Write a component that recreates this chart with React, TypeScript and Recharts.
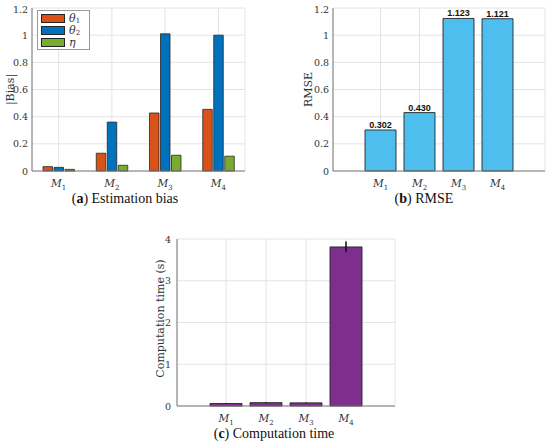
import React from 'react';
import {
  BarChart,
  Bar,
  XAxis,
  YAxis,
  CartesianGrid,
  Legend,
  LabelList,
  ErrorBar,
  Label,
} from 'recharts';

const methods = ['1', '2', '3', '4'];

// (a) estimation bias
const biasTheta1 = [0.032, 0.131, 0.427, 0.454];
const biasTheta2 = [0.027, 0.36, 1.01, 1.0];
const biasEta = [0.012, 0.042, 0.116, 0.109];

// (b) RMSE
const rmse = [0.302, 0.43, 1.123, 1.121];

// (c) computation time (s)
const compTime = [0.06, 0.08, 0.075, 3.81];
const compErr = [0.01, 0.01, 0.01, 0.13];

const ticks12 = [0, 0.2, 0.4, 0.6, 0.8, 1, 1.2];
const ticks4 = [0, 1, 2, 3, 4];

const biasData = methods.map((m, i) => ({
  name: m,
  theta1: biasTheta1[i],
  theta2: biasTheta2[i],
  eta: biasEta[i],
}));
const rmseData = methods.map((m, i) => ({ name: m, rmse: rmse[i] }));
const timeData = methods.map((m, i) => ({ name: m, time: compTime[i], err: compErr[i] }));

const SERIF = '"DejaVu Serif", "Liberation Serif", serif';
const SANS = '"Liberation Sans", Arial, sans-serif';
const TXT = '#333';
const AXIS = '#7a7a7a';
const GRID = '#e4e4e4';
const EDGE = '#262626';

function MTick(props: any) {
  const { x, y, payload } = props;
  return (
    <text x={x} y={y + 14} textAnchor="middle" fill={TXT} style={{ fontFamily: SERIF, fontSize: 10.5 }}>
      <tspan fontStyle="italic">M</tspan>
      <tspan dy={2.5} style={{ fontSize: 7 }}>
        {payload.value}
      </tspan>
    </text>
  );
}

function NumTick(props: any) {
  const { x, y, payload } = props;
  return (
    <text
      x={x}
      y={y}
      dy={3.5}
      textAnchor="end"
      fill={TXT}
      style={{ fontFamily: SERIF, fontSize: 9.5 }}
    >
      {String(payload.value)}
    </text>
  );
}

function yLabel(text: string, x: number, dy = 0) {
  return (props: any) => {
    const vb = props.viewBox || {};
    const cy = vb.y + vb.height / 2 + dy;
    return (
      <text
        x={x}
        y={cy}
        transform={`rotate(-90, ${x}, ${cy})`}
        textAnchor="middle"
        dominantBaseline="central"
        fill={TXT}
        style={{ fontFamily: SERIF, fontSize: 11 }}
      >
        {text}
      </text>
    );
  };
}

const legendItems = [
  { color: '#D95319', sym: 'θ', sub: '1' },
  { color: '#0072BD', sym: 'θ', sub: '2' },
  { color: '#77AC30', sym: 'η', sub: '' },
];

function BiasLegend() {
  return (
    <div
      style={{
        border: '1px solid #9a9a9a',
        background: '#fff',
        padding: '1px 9px 1px 3px',
        fontFamily: SERIF,
        fontSize: 11,
        color: TXT,
      }}
    >
      {legendItems.map((it) => (
        <div key={it.color + it.sub} style={{ display: 'flex', alignItems: 'center', height: 12 }}>
          <span
            style={{
              display: 'inline-block',
              width: 22,
              height: 7,
              background: it.color,
              border: `1px solid ${EDGE}`,
              marginRight: 4,
            }}
          />
          <span style={{ fontStyle: 'italic' }}>{it.sym}</span>
          <span style={{ fontSize: 7, position: 'relative', top: 3 }}>{it.sub}</span>
        </div>
      ))}
    </div>
  );
}

const caption = (x: number, y: number, letter: string, text: string) => (
  <div
    style={{
      position: 'absolute',
      left: x - 100,
      width: 200,
      top: y - 9,
      textAlign: 'center',
      fontFamily: '"Liberation Serif", serif',
      fontSize: 14,
      color: '#111',
      whiteSpace: 'nowrap',
    }}
  >
    (<b>{letter}</b>) {text}
  </div>
);

export default function App() {
  return (
    <div style={{ position: 'absolute', left: 0, top: 0, width: 550, height: 446, background: '#fff' }}>
      {/* (a) */}
      <div style={{ position: 'absolute', left: 0, top: 0 }}>
        <BarChart
          width={260}
          height={195}
          data={biasData}
          margin={{ top: 8, right: 15, bottom: 4, left: 0 }}
          barSize={9.5}
          barGap={1.5}
        >
          <CartesianGrid stroke={GRID} />
          <XAxis dataKey="name" height={20} tickLine={false} tickSize={0} tick={<MTick />} stroke={AXIS} interval={0} />
          <XAxis xAxisId="t" dataKey="name" orientation="top" height={0} tick={false} tickLine={false} stroke={AXIS} />
          <YAxis
            width={32}
            domain={[0, 1.2]}
            ticks={ticks12}
            tickLine={false}
            tickSize={0}
            tickMargin={4}
            tick={<NumTick />}
            stroke={AXIS}
          >
            <Label content={yLabel('|Bias|', 10)} />
          </YAxis>
          <YAxis yAxisId="r" orientation="right" width={0} tick={false} tickLine={false} stroke={AXIS} />
          <Legend
            layout="vertical"
            align="center"
            verticalAlign="middle"
            content={<BiasLegend />}
            wrapperStyle={{ left: 37, top: 10, width: 'auto' }}
          />
          <Bar dataKey="theta1" fill="#D95319" stroke={EDGE} strokeWidth={0.8} isAnimationActive={false} />
          <Bar dataKey="theta2" fill="#0072BD" stroke={EDGE} strokeWidth={0.8} isAnimationActive={false} />
          <Bar dataKey="eta" fill="#77AC30" stroke={EDGE} strokeWidth={0.8} isAnimationActive={false} />
        </BarChart>
      </div>
      {caption(125, 200, 'a', 'Estimation bias')}

      {/* (b) */}
      <div style={{ position: 'absolute', left: 290, top: 0 }}>
        <BarChart
          width={260}
          height={195}
          data={rmseData}
          margin={{ top: 8, right: 5, bottom: 4, left: 0 }}
          barSize={31}
        >
          <CartesianGrid stroke={GRID} />
          <XAxis
            dataKey="name"
            height={20}
            tickLine={false}
            tickSize={0}
            tick={<MTick />}
            stroke={AXIS}
            interval={0}
            padding={{ left: 28, right: 28 }}
          />
          <XAxis
            xAxisId="t"
            dataKey="name"
            orientation="top"
            height={0}
            tick={false}
            tickLine={false}
            stroke={AXIS}
            padding={{ left: 28, right: 28 }}
          />
          <YAxis
            width={43}
            domain={[0, 1.2]}
            ticks={ticks12}
            tickLine={false}
            tickSize={0}
            tickMargin={4}
            tick={<NumTick />}
            stroke={AXIS}
          >
            <Label content={yLabel('RMSE', 18)} />
          </YAxis>
          <YAxis yAxisId="r" orientation="right" width={0} tick={false} tickLine={false} stroke={AXIS} />
          <Bar dataKey="rmse" fill="#4DBEEE" stroke={EDGE} strokeWidth={0.9} isAnimationActive={false}>
            <LabelList
              dataKey="rmse"
              position="top"
              offset={2}
              formatter={(v: any) => Number(v).toFixed(3)}
              style={{ fontSize: 9, fontWeight: 'bold', fontFamily: SANS, fill: '#111' }}
            />
          </Bar>
        </BarChart>
      </div>
      {caption(424, 200, 'b', 'RMSE')}

      {/* (c) */}
      <div style={{ position: 'absolute', left: 120, top: 225 }}>
        <BarChart
          width={290}
          height={200}
          data={timeData}
          margin={{ top: 14, right: 15, bottom: 1, left: 0 }}
          barSize={32}
        >
          <CartesianGrid stroke={GRID} />
          <XAxis
            dataKey="name"
            height={18}
            tickLine={false}
            tickSize={0}
            tick={<MTick />}
            stroke={AXIS}
            interval={0}
            padding={{ left: 29, right: 29 }}
          />
          <XAxis
            xAxisId="t"
            dataKey="name"
            orientation="top"
            height={0}
            tick={false}
            tickLine={false}
            stroke={AXIS}
            padding={{ left: 29, right: 29 }}
          />
          <YAxis
            width={57}
            domain={[0, 4]}
            ticks={ticks4}
            tickLine={false}
            tickSize={0}
            tickMargin={6}
            tick={<NumTick />}
            stroke={AXIS}
          >
            <Label content={yLabel('Computation time (s)', 40, -4)} />
          </YAxis>
          <YAxis yAxisId="r" orientation="right" width={0} tick={false} tickLine={false} stroke={AXIS} />
          <Bar dataKey="time" fill="#7E2F8E" stroke={EDGE} strokeWidth={0.9} isAnimationActive={false}>
            <ErrorBar dataKey="err" width={0} stroke="#111" strokeWidth={1.5} isAnimationActive={false} />
          </Bar>
        </BarChart>
      </div>
      {caption(274, 435, 'c', 'Computation time')}
    </div>
  );
}
